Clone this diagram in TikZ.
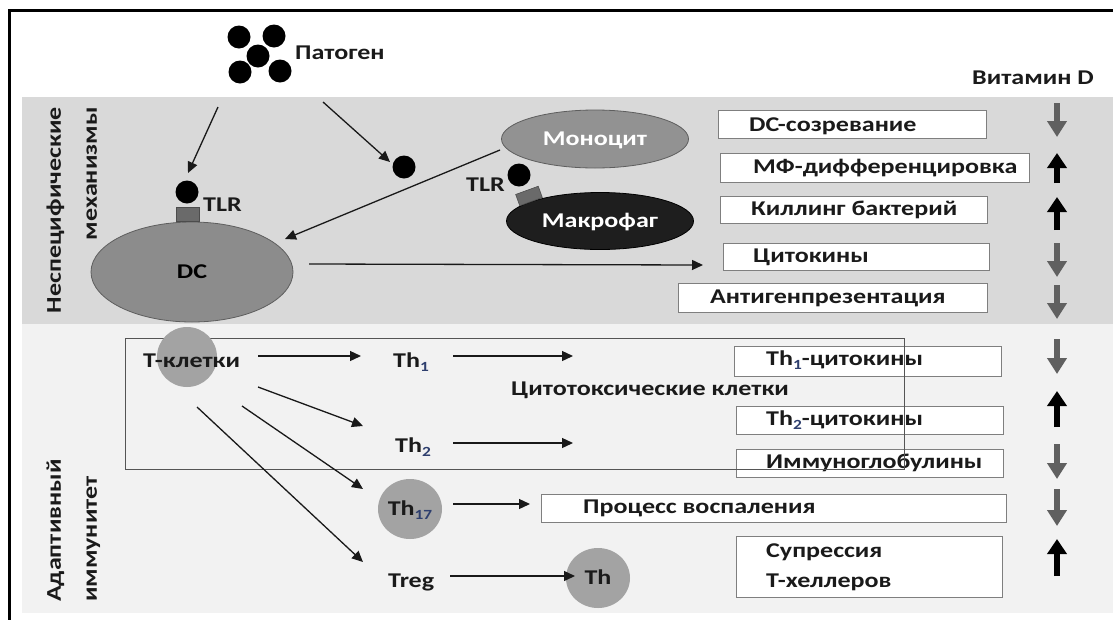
\documentclass[tikz,border=0pt]{standalone}
\usepackage{fontspec}
\setmainfont{Carlito}[FakeStretch=1.24]
\usetikzlibrary{arrows.meta,shapes.geometric}
\definecolor{band1}{HTML}{D9D9D9}
\definecolor{band2}{HTML}{F2F2F2}
\definecolor{boxc}{HTML}{7F7F7F}
\definecolor{rectc}{HTML}{555555}
\definecolor{dcfill}{HTML}{8C8C8C}
\definecolor{dcdraw}{HTML}{5E5E5E}
\definecolor{monofill}{HTML}{929292}
\definecolor{macfill}{HTML}{1E1E1E}
\definecolor{recc}{HTML}{6A6A6A}
\definecolor{cellc}{HTML}{A3A3A3}
\definecolor{vgray}{HTML}{606060}
\definecolor{txtc}{HTML}{1A1A1A}
\definecolor{subc}{HTML}{2E3F6E}
\newcommand\fs{\fontsize{21}{25}\selectfont\bfseries}
\newcommand\mysub[1]{\raisebox{-3.5pt}{\fontsize{14}{14}\selectfont\color{subc}#1}}
\begin{document}
\begin{tikzpicture}[x=1pt,y=-1pt,
  txt/.style={font=\fs, text=txtc, inner sep=0pt, text height=13.5pt, text depth=0pt},
  box/.style={draw=boxc, line width=1.4pt, fill=white, inner sep=0pt, anchor=north west},
  arr/.style={draw=black!90, line width=1.3pt, -{Triangle[length=11pt,width=10pt]}},
  dot/.style={circle, fill=black, minimum size=23pt, inner sep=0pt},
  cell/.style={ellipse, inner sep=0pt},
  vup/.style={line width=5.5pt, -{Triangle[length=15pt,width=19pt]}, draw=black},
  vdown/.style={line width=5.5pt, -{Triangle[length=16pt,width=19pt]}, draw=vgray},
]
\useasboundingbox (0,0) rectangle (1113,619);
\clip (0,0) rectangle (1113,619);
% bands and frame
\fill[band1] (22,97) rectangle (1113,324);
\fill[band2] (22,324) rectangle (1113,613);
\draw[line width=3pt] (9.5,640) -- (9.5,10) -- (1130,10);
% band titles
\node[txt, rotate=90, anchor=east] (t1a) at (54,107) {Неспецифические};
\node[txt, rotate=90, anchor=east] (t1b) at (90,107) {механизмы};
\node[txt, rotate=90, anchor=west] (t2a) at (54,602) {Адаптивный};
\node[txt, rotate=90, anchor=west] (t2b) at (90,602) {иммунитет};
% pathogen
\node[dot] (p1) at (239,37) {};
\node[dot] (p2) at (274,36) {};
\node[dot] (p3) at (258,56) {};
\node[dot] (p4) at (240,72) {};
\node[dot] (p5) at (280,71) {};
\node[txt, anchor=west] (pat) at (295,53) {Патоген};
\node[txt, anchor=west] (vit) at (972,78) {Витамин D};
% DC
\node[cell, fill=dcfill, draw=dcdraw, line width=0.8pt, minimum width=202pt, minimum height=100pt, font=\fs, text height=13.5pt, text depth=0pt] (dc) at (192,272) {DC};
\node[draw=black!70, fill=recc, line width=0.6pt, minimum width=23pt, minimum height=14pt, inner sep=0pt] (dcrec) at (187.5,214) {};
\node[dot] (dcdot) at (187,192) {};
\node[txt, anchor=west] (tlr1) at (203,205) {TLR};
% free antigen
\node[dot] (fdot) at (404,167) {};
% monocyte / macrophage
\node[cell, fill=monofill, draw=dcdraw, line width=0.8pt, minimum width=187pt, minimum height=58pt, font=\fs, text height=13.5pt, text depth=0pt, text=white] (mono) at (595,139) {Моноцит};
\node[cell, fill=macfill, draw=black, line width=0.8pt, minimum width=187pt, minimum height=57pt, font=\fs, text height=13.5pt, text depth=0pt, text=white] (mac) at (600,221) {Макрофаг};
\node[fill=recc, draw=black!70, line width=0.6pt, minimum width=24pt, minimum height=12pt, inner sep=0pt, rotate=20] (macrec) at (529,196) {};
\node[dot] (macdot) at (519,175) {};
\node[txt, anchor=west] (tlr2) at (466,185) {TLR};
% boxes (innate)
\node[box, minimum width=268pt, minimum height=28pt] (bdc) at (718,110) {};
\node[txt, anchor=west] at (749,125) {DC-созревание};
\node[box, minimum width=309pt, minimum height=29pt] (bmf) at (720,153) {};
\node[txt, anchor=west] at (753,167) {МФ-дифференцировка};
\node[box, minimum width=267pt, minimum height=27pt] (bkill) at (720,196) {};
\node[txt, anchor=west] at (751,209) {Киллинг бактерий};
\node[box, minimum width=266pt, minimum height=27pt] (bcyt) at (723,243) {};
\node[txt, anchor=west] at (753,256) {Цитокины};
\node[box, minimum width=309pt, minimum height=29pt] (bag) at (678,283) {};
\node[txt, anchor=west] at (710,297) {Антигенпрезентация};
% boxes (adaptive)
\node[box, minimum width=267pt, minimum height=30pt] (bth1) at (734,346) {};
\node[txt, anchor=west] at (766,359) {Th\mysub{1}-цитокины};
\node[box, minimum width=267pt, minimum height=28pt] (bth2) at (736,406) {};
\node[txt, anchor=west] at (766,419) {Th\mysub{2}-цитокины};
\node[box, minimum width=267pt, minimum height=28pt] (big) at (736,449) {};
\node[txt, anchor=west] at (766,462) {Иммуноглобулины};
\node[box, minimum width=465pt, minimum height=28pt] (binf) at (541,494) {};
\node[txt, anchor=west] at (583,507) {Процесс воспаления};
\node[box, minimum width=266pt, minimum height=61pt] (bsup) at (736,536) {};
\node[txt, anchor=west] at (766,551) {Супрессия};
\node[txt, anchor=west] at (766,581) {Т-хеллеров};
% cytotoxic frame
\node[draw=rectc, line width=1.4pt, minimum width=779pt, minimum height=131pt, inner sep=0pt, anchor=north west] (cyto) at (125,338) {};
\node[txt, anchor=west] (cytot) at (511,389) {Цитотоксические клетки};
% T cells
\node[cell, fill=cellc, minimum width=60pt, minimum height=60pt] (tc) at (187,357) {};
\node[txt, anchor=west] (tct) at (143,361) {Т-клетки};
\node[txt, anchor=west] (th1) at (393,361) {Th\mysub{1}};
\node[txt, anchor=west] (th2) at (395,446) {Th\mysub{2}};
\node[cell, fill=cellc, minimum width=64pt, minimum height=60pt, font=\fs, text height=13.5pt, text depth=0pt, text=txtc] (th17) at (410,509) {Th\mysub{17}};
\node[txt, anchor=west] (treg) at (388,581) {Treg};
\node[cell, fill=cellc, minimum width=64pt, minimum height=60pt, font=\fs, text height=13.5pt, text depth=0pt, text=txtc] (th) at (598,578) {Th};
% arrow end points
\coordinate (a1s) at (218,107); \coordinate (a1e) at (188,173);
\coordinate (a2s) at (323,102); \coordinate (a2e) at (390,162);
\coordinate (a3s) at (500,150); \coordinate (a3e) at (285,239);
\coordinate (a4s) at (309,264); \coordinate (a4e) at (703,265);
\coordinate (b1s) at (258,356); \coordinate (b1e) at (361,356);
\coordinate (b2s) at (258,387); \coordinate (b2e) at (363,426);
\coordinate (b3s) at (242,406); \coordinate (b3e) at (363,489);
\coordinate (b4s) at (197,407); \coordinate (b4e) at (363,562);
\coordinate (c1s) at (453,356); \coordinate (c1e) at (573,356);
\coordinate (c2s) at (453,443); \coordinate (c2e) at (573,443);
\coordinate (c3s) at (453,504); \coordinate (c3e) at (530,504);
\coordinate (c4s) at (450,576); \coordinate (c4e) at (575,576);
\draw[arr] (a1s) -- (a1e);
\draw[arr] (a2s) -- (a2e);
\draw[arr] (a3s) -- (a3e);
\draw[arr] (a4s) -- (a4e);
\draw[arr] (b1s) -- (b1e);
\draw[arr] (b2s) -- (b2e);
\draw[arr] (b3s) -- (b3e);
\draw[arr] (b4s) -- (b4e);
\draw[arr] (c1s) -- (c1e);
\draw[arr] (c2s) -- (c2e);
\draw[arr] (c3s) -- (c3e);
\draw[arr] (c4s) -- (c4e);
% vitamin D effects
\draw[vdown] (1057,103) -- (1057,137);
\draw[vup] (1057,183) -- (1057,153);
\draw[vup] (1057,230) -- (1057,197);
\draw[vdown] (1057,243) -- (1057,277);
\draw[vdown] (1057,285) -- (1057,319);
\draw[vdown] (1057,339) -- (1057,374);
\draw[vup] (1057,427) -- (1057,391);
\draw[vdown] (1057,444) -- (1057,479);
\draw[vdown] (1057,489) -- (1057,526);
\draw[vup] (1057,576) -- (1057,539);
\end{tikzpicture}
\end{document}
